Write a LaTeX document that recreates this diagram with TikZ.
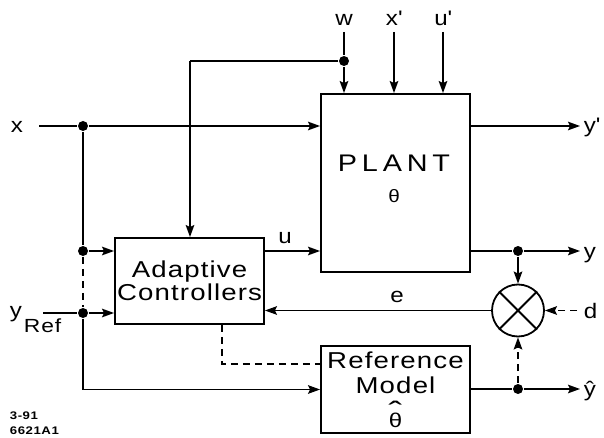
\documentclass[tikz,border=0pt]{standalone}
\usepackage{fontspec}
\setmainfont{Liberation Sans}[FakeStretch=1.15]
\newfontfamily\blkfont{Liberation Sans}[FakeStretch=1.2, LetterSpace=5]
\newfontfamily\plantfont{Liberation Sans}[FakeStretch=1.2, LetterSpace=20]
\usetikzlibrary{arrows.meta,shapes.geometric}
\begin{document}
\begin{tikzpicture}[x=1pt,y=-1pt,
  line width=1.8pt,
  blk/.style={draw, rectangle, inner sep=0pt},
  arr/.style={-{Stealth[length=12pt,width=8.5pt,inset=2pt]}},
  dsh/.style={dash pattern=on 7pt off 5pt},
  dot/.style={circle, fill, inner sep=0pt, minimum size=10pt},
  lbl/.style={font=\fontsize{21}{23}\selectfont, inner sep=0pt},
  btxt/.style={font=\blkfont\fontsize{23}{23}\selectfont, align=center, inner sep=0pt}]
\useasboundingbox (0,0) rectangle (604,438);
% blocks
\node[blk, minimum width=149pt, minimum height=178pt] (plant) at (395.5,183) {};
\node[font=\plantfont\fontsize{24}{28}\selectfont, inner sep=0pt] (plantlbl) at (394,163) {PLANT};
\node[font=\fontsize{18}{19}\selectfont, inner sep=0pt] (theta) at (394,196) {θ};
\node[blk, minimum width=149pt, minimum height=86pt] (ctrl) at (189.5,281) {};
\node[btxt] (ctrllbl) at (189.5,281) {Adaptive\\Controllers};
\node[blk, minimum width=149pt, minimum height=87pt] (ref) at (395.5,389.5) {};
\node[btxt, anchor=north] (reflbl) at (395.5,351) {Reference\\[2pt]Model\\[5pt]{\fontsize{20}{20}\selectfont\scalebox{1.7}[1.4]{ˆ}}\\[-17pt]{\fontsize{20}{20}\selectfont θ}};
\node[circle, draw, minimum size=52pt, inner sep=0pt] (mix) at (518,310.5) {};
\draw (mix.north west) -- (mix.south east) (mix.north east) -- (mix.south west);
% junctions
\node[dot] (jx) at (83,126) {};
\node[dot] (j1) at (83,251) {};
\node[dot] (jr) at (83,313) {};
\node[dot] (jw) at (344,61) {};
\node[dot] (jy) at (518,251) {};
\node[dot] (jh) at (518,389) {};
% free ends
\coordinate (xin) at (39,126);
\coordinate (yrin) at (43,313);
\coordinate (wtop) at (344,32);
\coordinate (xptop) at (394,32);
\coordinate (uptop) at (443,32);
\coordinate (wl) at (190,61);
\coordinate (cd) at (222,364);
\coordinate (ypend) at (580,126);
\coordinate (yend) at (580,251);
\coordinate (dstart) at (577,310.5);
\coordinate (yhend) at (580,389);
% connectors
\draw (xin) -- (jx);
\draw[arr] (jx) -- (jx -| plant.west);
\draw (jx) -- (j1);
\draw[arr] (j1) -- (j1 -| ctrl.west);
\draw[dsh] (j1) -- (jr);
\draw (yrin) -- (jr);
\draw[arr] (jr) -- (jr -| ctrl.west);
\draw[arr] (jr) |- (ref.west);
\draw[dsh] (ctrl.south -| cd) -- (cd) -- (cd -| ref.west);
\draw (wtop) -- (jw);
\draw[arr] (jw) -- (jw |- plant.north);
\draw (jw) -- (wl);
\draw[arr] (wl) -- (wl |- ctrl.north);
\draw[arr] (xptop) -- (xptop |- plant.north);
\draw[arr] (uptop) -- (uptop |- plant.north);
\draw[arr] (ctrl.east |- jy) -- (plant.west |- jy);
\draw (plant.east |- jy) -- (jy);
\draw[arr] (jy) -- (yend);
\draw[arr] (jy) -- (mix.north);
\draw[arr] (plant.east |- jx) -- (ypend);
\draw[arr] (mix.west) -- (mix.west -| ctrl.east);
\draw[dsh,arr] (dstart) -- (mix.east);
\draw (ref.east |- jh) -- (jh);
\draw[arr] (jh) -- (yhend);
\draw[dsh,arr] (jh) -- (mix.south);
% labels
\node[lbl, anchor=base] (lx) at (17,133) {x};
\node[lbl, anchor=base] (lw) at (344,26) {w};
\node[lbl, anchor=base] (lxp) at (394,26) {x\textquotesingle};
\node[lbl, anchor=base] (lup) at (443,26) {u\textquotesingle};
\node[lbl, anchor=base west] (lyp) at (583,133) {y\textquotesingle};
\node[lbl, anchor=base west] (ly) at (583,258) {y};
\node[lbl, anchor=base west] (ld) at (583,318) {d};
\node[lbl, anchor=base west] (lyh) at (583,396) {\^{y}};
\node[lbl, anchor=base] (lu) at (285,243) {u};
\node[lbl, anchor=base] (le) at (397,302) {e};
\node[lbl, anchor=base west] (lyr) at (9,317) {y};
\node[inner sep=0pt, anchor=base west, font=\blkfont\fontsize{19}{20}\selectfont] (lref) at (23,332) {Ref};
\node[inner sep=0pt, anchor=base west, font=\blkfont\fontsize{11}{12}\selectfont\bfseries] (c1) at (9,419) {3-91};
\node[inner sep=0pt, anchor=base west, font=\blkfont\fontsize{11}{12}\selectfont\bfseries] (c2) at (9,434) {6621A1};
\end{tikzpicture}
\end{document}
